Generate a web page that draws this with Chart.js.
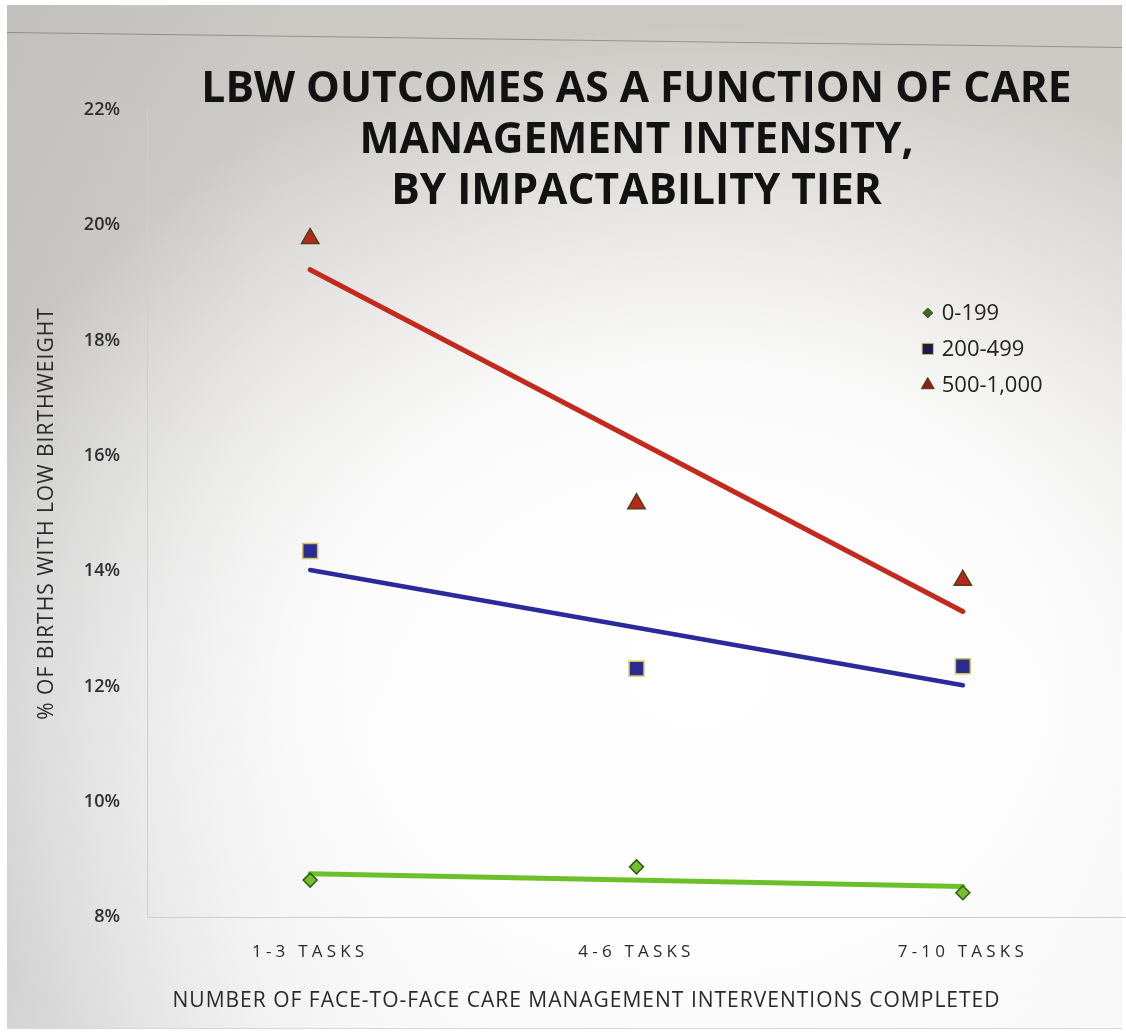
<!DOCTYPE html>
<html>
<head>
<meta charset="utf-8">
<title>LBW outcomes by care management intensity</title>
<script src="https://cdn.jsdelivr.net/npm/chart.js@4.4.1/dist/chart.umd.min.js"></script>
<style>
  html, body { margin: 0; padding: 0; width: 1126px; height: 1034px; overflow: hidden; background: #ffffff; position: relative; }
  #screen {
    position: absolute; left: 7px; top: 5px; width: 1115px; height: 1023px;
    background:
      radial-gradient(ellipse 70% 62% at 62% 64%, rgba(255,255,255,1) 0%, rgba(255,255,255,0.9) 45%, rgba(255,255,255,0) 100%),
      linear-gradient(to right, rgba(185,185,185,0.55) 0%, rgba(200,200,200,0.15) 25%, rgba(255,255,255,0) 45%),
      linear-gradient(to bottom, #cbc8c3 0%, #d5d3cf 30%, #eaeaea 70%, #f4f4f4 100%);
    border-bottom: 1px solid #d8d8d8;
  }
  #bezel {
    position: absolute; left: 7px; top: 32px; width: 1115px; height: 1px;
    background: rgba(105, 100, 95, 0.55);
    transform-origin: 0 0; transform: rotate(0.77deg);
  }
  #chart { position: absolute; left: 0; top: 0; }
</style>
</head>
<body>
<div id="screen"></div>
<div id="bezel"></div>
<canvas id="chart" width="1138" height="1034"></canvas>
<script>
// Intensity bands (x axis)
const categories = ['1-3 TASKS', '4-6 TASKS', '7-10 TASKS'];
// Impactability tiers
const tierNames = ['0-199', '200-499', '500-1,000'];

// % of births with low birthweight, per tier and band
const lbw0to199   = [8.64, 8.87, 8.42];
const lbw200to499 = [14.35, 12.31, 12.35];
const lbw500to1000 = [19.77, 15.17, 13.84];

// Linear trend per tier: fitted value at the first and the last band
const trend0to199   = [8.75, 8.53];
const trend200to499 = [14.02, 12.02];
const trend500to1000 = [19.23, 13.30];

// Value axis
const yMin = 8;
const yMax = 22;
const yStep = 2;

const titleLines = ['LBW OUTCOMES AS A FUNCTION OF CARE', 'MANAGEMENT INTENSITY,', 'BY IMPACTABILITY TIER'];
const yAxisTitle = '% OF BIRTHS WITH LOW BIRTHWEIGHT';
const xAxisTitle = 'NUMBER OF FACE-TO-FACE CARE MANAGEMENT INTERVENTIONS COMPLETED';

const tierStyles = [
  { point: 'rectRot',  radius: 7,    fill: '#74bf2e', edge: '#35581a', key: '#3f6a1c', keyRadius: 5,   line: '#6cc02a', lineWidth: 5 },
  { point: 'rect',     radius: 10.5, fill: '#2b2d8e', edge: '#d2c25c', key: '#1c1c4c', keyRadius: 8,   line: '#2a2a9c', lineWidth: 4.5 },
  { point: 'triangle', radius: 10,   fill: '#b9261c', edge: '#4d4212', key: '#8c2216', keyRadius: 7.5, line: '#c22a1e', lineWidth: 5 }
];

const tierValues = [lbw0to199, lbw200to499, lbw500to1000];
const tierTrends = [trend0to199, trend200to499, trend500to1000];

const markerSets = tierValues.map((vals, i) => ({
  label: tierNames[i],
  data: vals,
  showLine: false,
  pointStyle: tierStyles[i].point,
  pointRadius: tierStyles[i].radius,
  pointHoverRadius: tierStyles[i].radius,
  pointBackgroundColor: tierStyles[i].fill,
  pointBorderColor: tierStyles[i].edge,
  pointBorderWidth: 1.5,
  backgroundColor: tierStyles[i].fill,
  borderColor: tierStyles[i].edge,
  order: 0
}));

const trendSets = tierTrends.map((t, i) => ({
  label: tierNames[i] + ' trend',
  data: [{ x: categories[0], y: t[0] }, { x: categories[categories.length - 1], y: t[1] }],
  borderColor: tierStyles[i].line,
  borderWidth: tierStyles[i].lineWidth,
  borderCapStyle: 'round',
  pointRadius: 0,
  pointHoverRadius: 0,
  fill: false,
  tension: 0,
  order: 1
}));

// Three-line heading drawn over the top of the plot
const headingPlugin = {
  id: 'heading',
  afterDraw(chart) {
    const { ctx, chartArea } = chart;
    const cx = (chartArea.left + chartArea.right) / 2;
    ctx.save();
    ctx.font = 'bold 42.5px "Open Sans", sans-serif';
    ctx.fillStyle = '#121212';
    ctx.textAlign = 'center';
    ctx.textBaseline = 'middle';
    titleLines.forEach((line, i) => {
      ctx.fillText(line, cx, chartArea.top - 20 + i * 51);
    });
    ctx.restore();
  }
};

// Tier key placed inside the plot, on the right
const tierKeyPlugin = {
  id: 'tierKey',
  afterDraw(chart) {
    const { ctx, chartArea } = chart;
    const w = chartArea.right - chartArea.left;
    const h = chartArea.bottom - chartArea.top;
    const mx = chartArea.left + w * 0.7975;
    const y0 = chartArea.top + h * 0.2515;
    ctx.save();
    ctx.font = '22px "Open Sans", sans-serif';
    ctx.textAlign = 'left';
    ctx.textBaseline = 'middle';
    tierNames.forEach((name, i) => {
      const y = y0 + i * 36;
      const st = tierStyles[i];
      ctx.fillStyle = st.key;
      ctx.strokeStyle = st.edge;
      ctx.lineWidth = 1;
      Chart.helpers.drawPoint(ctx, { pointStyle: st.point, radius: st.keyRadius, borderWidth: 1 }, mx, y);
      ctx.fillStyle = '#222222';
      ctx.fillText(name, mx + 14, y + 1);
    });
    ctx.restore();
  }
};

// Letter spacing for axis texts, and an x title set slightly left of centre
const axisTweaks = {
  id: 'axisTweaks',
  beforeDraw(chart) {
    const ctx = chart.ctx;
    const xs = chart.scales.x;
    const ys = chart.scales.y;
    if (xs && !xs.__tweaked) {
      const drawLabels = xs.drawLabels.bind(xs);
      xs.drawLabels = function (area) {
        ctx.save();
        ctx.letterSpacing = '4.2px';
        drawLabels(area);
        ctx.restore();
      };
      const drawTitle = xs.drawTitle.bind(xs);
      xs.drawTitle = function () {
        ctx.save();
        ctx.letterSpacing = '1px';
        ctx.translate(-50, 0);
        drawTitle();
        ctx.restore();
      };
      xs.__tweaked = true;
    }
    if (ys && !ys.__tweaked) {
      const drawTitle = ys.drawTitle.bind(ys);
      ys.drawTitle = function () {
        ctx.save();
        ctx.letterSpacing = '1px';
        drawTitle();
        ctx.restore();
      };
      ys.__tweaked = true;
    }
  }
};

new Chart(document.getElementById('chart'), {
  type: 'line',
  data: {
    labels: categories,
    datasets: [...markerSets, ...trendSets]
  },
  plugins: [axisTweaks, headingPlugin, tierKeyPlugin],
  options: {
    responsive: false,
    animation: false,
    devicePixelRatio: 1,
    layout: { padding: { top: 110, right: 1, bottom: 0, left: 0 } },
    plugins: {
      legend: { display: false },
      title: { display: false },
      tooltip: { enabled: false }
    },
    scales: {
      x: {
        type: 'category',
        offset: true,
        grid: { display: false, drawTicks: false },
        border: { display: true, color: '#cfcfcf', width: 1 },
        ticks: {
          color: '#2a2a2a',
          padding: 25,
          font: { family: '"Open Sans", sans-serif', size: 17 },
          maxRotation: 0
        },
        title: {
          display: true,
          text: xAxisTitle,
          color: '#2a2a2a',
          font: { family: '"Open Sans", sans-serif', size: 21 },
          padding: { top: 0, bottom: 20 }
        },
        afterFit(scale) {
          scale.height = 117;
          scale.paddingLeft = 0;
          scale.paddingRight = 0;
        }
      },
      y: {
        min: yMin,
        max: yMax,
        grid: { display: false, drawTicks: false },
        border: { display: true, color: '#cfcfcf', width: 1 },
        ticks: {
          stepSize: yStep,
          color: '#2e2e2e',
          padding: 27,
          font: { family: '"Open Sans", sans-serif', size: 18, weight: '600' },
          callback: (v) => v + '%'
        },
        title: {
          display: true,
          text: yAxisTitle,
          color: '#2a2a2a',
          font: { family: '"Open Sans", sans-serif', size: 21 },
          padding: { top: 34, bottom: 0 }
        },
        afterFit(scale) { scale.width = 147; }
      }
    }
  }
});
</script>
</body>
</html>
